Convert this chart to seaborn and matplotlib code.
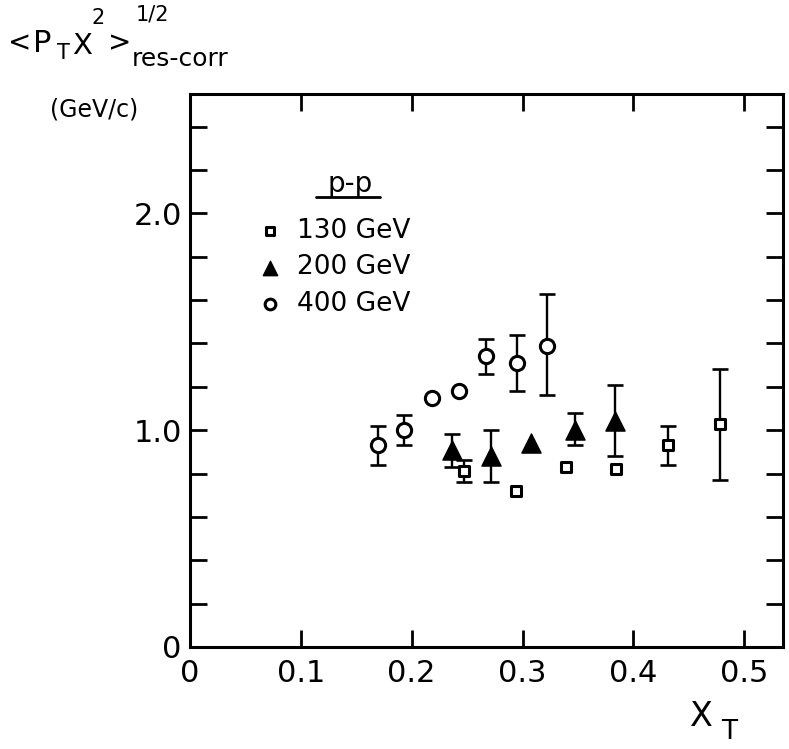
import numpy as np
import pandas as pd
import matplotlib
matplotlib.use("Agg")
import matplotlib.pyplot as plt
from matplotlib.lines import Line2D
import seaborn as sns

# ---------------- data ----------------
x130 = [0.247, 0.294, 0.339, 0.384, 0.431, 0.478]
y130 = [0.81, 0.72, 0.83, 0.82, 0.93, 1.03]
lo130 = [0.76, np.nan, np.nan, np.nan, 0.84, 0.77]
hi130 = [0.86, np.nan, np.nan, np.nan, 1.02, 1.28]

x200 = [0.236, 0.272, 0.308, 0.347, 0.383]
y200 = [0.91, 0.88, 0.94, 1.00, 1.04]
lo200 = [0.83, 0.76, np.nan, 0.93, 0.88]
hi200 = [0.98, 1.00, np.nan, 1.08, 1.21]

x400 = [0.170, 0.193, 0.218, 0.243, 0.267, 0.295, 0.322]
y400 = [0.93, 1.00, 1.15, 1.18, 1.34, 1.31, 1.39]
lo400 = [0.84, 0.93, np.nan, np.nan, 1.26, 1.18, 1.16]
hi400 = [1.02, 1.07, np.nan, np.nan, 1.42, 1.44, 1.63]

series_labels = ["130 GeV", "200 GeV", "400 GeV"]
xticks = [0, 0.1, 0.2, 0.3, 0.4, 0.5]
xticklabels = ["0", "0.1", "0.2", "0.3", "0.4", "0.5"]
yticks = [0, 0.2, 0.4, 0.6, 0.8, 1.0, 1.2, 1.4, 1.6, 1.8, 2.0, 2.2, 2.4]
yticklabels = ["0", "", "", "", "", "1.0", "", "", "", "", "2.0", "", ""]

# ---------------- style ----------------
sns.set_style("ticks")
plt.rcParams["font.family"] = ["DejaVu Sans"]
plt.rcParams["text.color"] = "black"
plt.rcParams["axes.labelcolor"] = "black"
plt.rcParams["xtick.color"] = "black"
plt.rcParams["ytick.color"] = "black"

W, H = 789, 749
fig = plt.figure(figsize=(W / 100, H / 100), dpi=100)
ax = fig.add_axes([190 / W, 1 - 647 / H, (783 - 190) / W, (647 - 94) / H])


def fx(px):
    return px / W


def fy(py):
    return 1 - py / H


frames = []
for lab, xs, ys in zip(series_labels, [x130, x200, x400], [y130, y200, y400]):
    frames.append(pd.DataFrame({"x": xs, "y": ys, "series": lab}))
df = pd.concat(frames, ignore_index=True)

styles = {
    "130 GeV": dict(marker="s", s=55, facecolor="white", edgecolor="black", linewidth=2.2),
    "200 GeV": dict(marker="^", s=190, facecolor="black", edgecolor="black", linewidth=1.0),
    "400 GeV": dict(marker="o", s=105, facecolor="white", edgecolor="black", linewidth=2.2),
}

# error bars
for xs, ys, lo, hi in [(x130, y130, lo130, hi130), (x200, y200, lo200, hi200),
                       (x400, y400, lo400, hi400)]:
    xs = np.array(xs); ys = np.array(ys); lo = np.array(lo); hi = np.array(hi)
    m = ~np.isnan(lo)
    ax.errorbar(xs[m], ys[m], yerr=[ys[m] - lo[m], hi[m] - ys[m]], fmt="none",
                ecolor="black", elinewidth=1.7, capsize=5.5, capthick=1.9, zorder=2)

for lab in series_labels:
    sub = df[df["series"] == lab]
    st = styles[lab]
    sns.scatterplot(data=sub, x="x", y="y", ax=ax, label=lab, zorder=3, **st)

ax.set_xlim(0, 0.535)
ax.set_ylim(0, 2.55)
ax.set_xticks(xticks)
ax.set_xticklabels(xticklabels)
ax.set_yticks(yticks)
ax.set_yticklabels(yticklabels)
ax.set_xlabel("")
ax.set_ylabel("")

ax.tick_params(axis="both", which="both", direction="in", length=12, width=2,
               top=True, right=True, labelsize=22, colors="black")
ax.tick_params(axis="x", pad=9)
ax.tick_params(axis="y", pad=6)
for sp in ax.spines.values():
    sp.set_visible(True)
    sp.set_linewidth(2.2)
    sp.set_color("black")

# legend
leg = ax.legend(loc="upper left", bbox_to_anchor=(0.112, 0.776), frameon=False,
                fontsize=19, handlelength=1.0, handletextpad=0.55,
                labelspacing=0.4, borderpad=0, borderaxespad=0,
                markerscale=0.75)
for t in leg.get_texts():
    t.set_color("black")
ax.text(0.27, 0.838, "p-p", transform=ax.transAxes, fontsize=20,
        ha="center", va="center", color="black")
ax.add_line(Line2D([0.213, 0.321], [0.814, 0.814], transform=ax.transAxes,
                   color="black", linewidth=2.0))

# y label pieces
fig.text(fx(20), fy(43), "<", fontsize=20, ha="center", va="center")
fig.text(fx(42), fy(43), "P", fontsize=22, ha="center", va="center")
fig.text(fx(63), fy(53), "T", fontsize=15, ha="center", va="center")
fig.text(fx(82), fy(46), "X", fontsize=21, ha="center", va="center")
fig.text(fx(98), fy(18), "2", fontsize=15, ha="center", va="center")
fig.text(fx(120), fy(43), ">", fontsize=20, ha="center", va="center")
fig.text(fx(152), fy(14), "1/2", fontsize=15, ha="center", va="center")
fig.text(fx(180), fy(59), "res-corr", fontsize=18, ha="center", va="center")
fig.text(fx(94), fy(110), "(GeV/c)", fontsize=17, ha="center", va="center")

# x label
fig.text(fx(701), fy(716), "X", fontsize=24, ha="center", va="center")
fig.text(fx(729), fy(732), "T", fontsize=19, ha="center", va="center")

fig.savefig("out.png", dpi=100, facecolor="white")
